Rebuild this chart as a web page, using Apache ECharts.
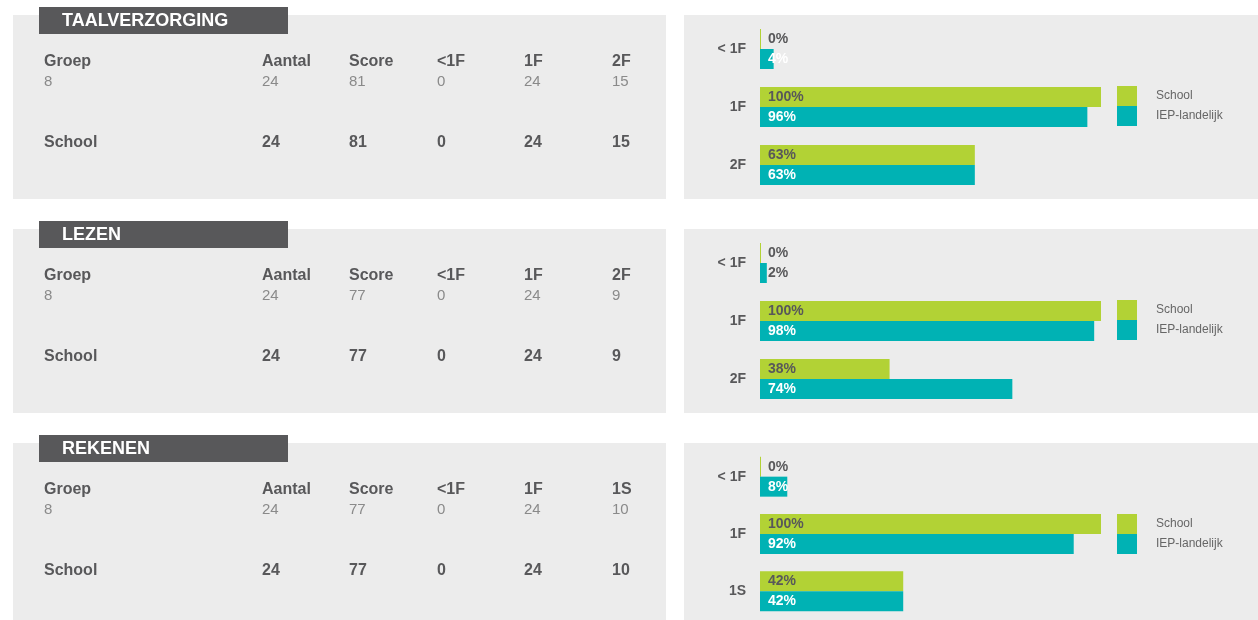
<!DOCTYPE html>
<html>
<head>
<meta charset="utf-8">
<script src="https://cdn.jsdelivr.net/npm/echarts@6/dist/echarts.min.js"></script>
<style>
  html, body { margin: 0; padding: 0; background: #fff; }
  #chart { width: 1258px; height: 620px; }
</style>
</head>
<body>
<div id="chart"></div>
<script>
const titles = ["TAALVERZORGING", "LEZEN", "REKENEN"];
const categories = [
  ["< 1F", "1F", "2F"],
  ["< 1F", "1F", "2F"],
  ["< 1F", "1F", "1S"],
];
const schoolPct = [
  [0, 100, 63],
  [0, 100, 38],
  [0, 100, 42],
];
const landelijkPct = [
  [4, 96, 63],
  [2, 98, 74],
  [8, 92, 42],
];
const tableHeaders = [
  ["Groep", "Aantal", "Score", "<1F", "1F", "2F"],
  ["Groep", "Aantal", "Score", "<1F", "1F", "2F"],
  ["Groep", "Aantal", "Score", "<1F", "1F", "1S"],
];
const groepRows = [
  ["8", "24", "81", "0", "24", "15"],
  ["8", "24", "77", "0", "24", "9"],
  ["8", "24", "77", "0", "24", "10"],
];
const schoolRows = [
  ["School", "24", "81", "0", "24", "15"],
  ["School", "24", "77", "0", "24", "9"],
  ["School", "24", "77", "0", "24", "10"],
];

const GREEN = "#b2d235";
const TEAL = "#00b2b4";
const DARK = "#58585a";
const FONT = "'Liberation Sans', Arial, sans-serif";
const offsets = [0, 214, 428];
const colX = [44, 262, 349, 437, 524, 612];

const chart = echarts.init(document.getElementById("chart"));

const graphic = [];
const grid = [];
const xAxis = [];
const yAxis = [];
const series = [];
const legend = [];

offsets.forEach((off, i) => {
  const boxBottom = Math.min(off + 199, 620);
  // grijze vlakken
  graphic.push({
    type: "rect", z: -10,
    shape: { x: 13, y: off + 15, width: 653, height: boxBottom - off - 15 },
    style: { fill: "#ececec" },
  });
  graphic.push({
    type: "rect", z: -10,
    shape: { x: 684, y: off + 15, width: 574, height: boxBottom - off - 15 },
    style: { fill: "#ececec" },
  });
  // titel tab
  graphic.push({
    type: "rect", z: -5,
    shape: { x: 39, y: off + 7, width: 249, height: 27 },
    style: { fill: DARK },
  });
  graphic.push({
    type: "text", x: 62, y: off + 21,
    style: {
      text: titles[i], fill: "#fff", font: "bold 18px " + FONT,
      textVerticalAlign: "middle",
    },
  });
  // tabel
  tableHeaders[i].forEach((t, c) => {
    graphic.push({
      type: "text", x: colX[c], y: off + 62,
      style: { text: t, fill: DARK, font: "bold 16px " + FONT, textVerticalAlign: "middle" },
    });
  });
  groepRows[i].forEach((t, c) => {
    graphic.push({
      type: "text", x: colX[c], y: off + 82,
      style: { text: t, fill: "#8a8a8a", font: "15px " + FONT, textVerticalAlign: "middle" },
    });
  });
  schoolRows[i].forEach((t, c) => {
    graphic.push({
      type: "text", x: colX[c], y: off + 143,
      style: { text: t, fill: DARK, font: "bold 16px " + FONT, textVerticalAlign: "middle" },
    });
  });

  grid.push({ left: 760, width: 341, top: off + 20, height: 174 });
  xAxis.push({ gridIndex: i, type: "value", min: 0, max: 100, show: false });
  yAxis.push({
    gridIndex: i, type: "category", inverse: true, data: categories[i],
    axisLine: { show: false }, axisTick: { show: false },
    axisLabel: { color: DARK, fontWeight: "bold", fontSize: 14, fontFamily: FONT, margin: 14 },
  });
  series.push({
    name: "School", type: "bar", xAxisIndex: i, yAxisIndex: i,
    data: schoolPct[i], barWidth: 20, barGap: "0%", barMinHeight: 1,
    itemStyle: { color: GREEN },
    label: {
      show: true, position: "insideLeft", distance: 8, formatter: "{c}%",
      color: DARK, fontWeight: "bold", fontSize: 14, fontFamily: FONT,
    },
  });
  series.push({
    name: "IEP-landelijk", type: "bar", xAxisIndex: i, yAxisIndex: i,
    data: landelijkPct[i].map((v) => ({
      value: v,
      label: v < 3 ? { color: DARK } : undefined,
    })),
    barWidth: 20, barGap: "0%",
    itemStyle: { color: TEAL },
    label: {
      show: true, position: "insideLeft", distance: 8, formatter: "{c}%",
      color: "#fff", fontWeight: "bold", fontSize: 14, fontFamily: FONT,
    },
  });
  legend.push({
    data: ["School", "IEP-landelijk"], orient: "vertical",
    left: 1117, top: off + 86, padding: 0,
    icon: "rect", itemWidth: 20, itemHeight: 20, itemGap: 0,
    selectedMode: false,
    textStyle: { color: "#666", fontSize: 12, fontFamily: FONT, padding: [0, 0, 0, 14] },
  });
});

chart.setOption({
  animation: false,
  graphic,
  grid,
  xAxis,
  yAxis,
  series,
  legend,
});
</script>
</body>
</html>
